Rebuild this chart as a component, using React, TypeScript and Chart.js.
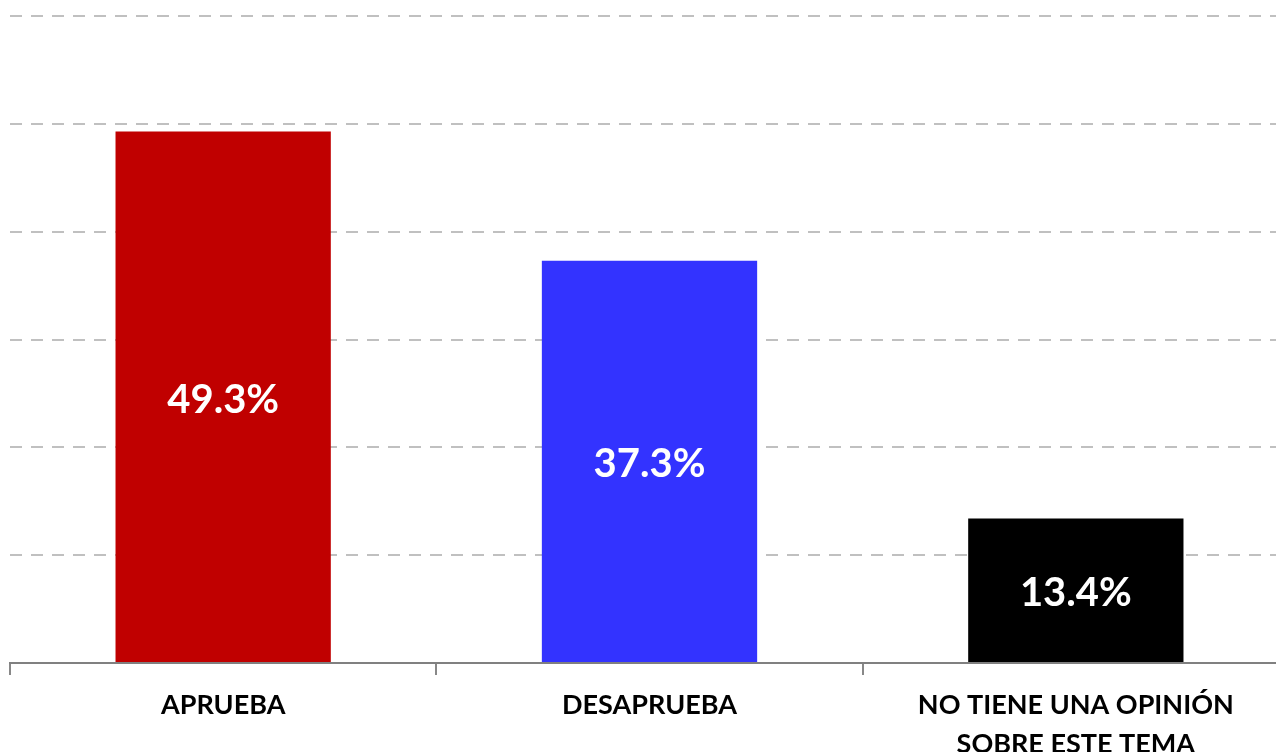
import React, { useEffect, useRef } from "react";
import { Chart, registerables } from "chart.js";

Chart.register(...registerables);

const categories: (string | string[])[] = [
  "APRUEBA",
  "DESAPRUEBA",
  ["NO TIENE UNA OPINIÓN", "SOBRE ESTE TEMA"],
];
const values: number[] = [49.3, 37.3, 13.4];
const barColors: string[] = ["#C00000", "#3333FF", "#000000"];
const yMax = 60;
const yStep = 10;

const valueLabels = {
  id: "valueLabels",
  afterDatasetsDraw(chart: any) {
    const ctx = chart.ctx;
    const meta = chart.getDatasetMeta(0);
    ctx.save();
    ctx.fillStyle = "#FFFFFF";
    ctx.font = "bold 40px Lato";
    ctx.textAlign = "center";
    ctx.textBaseline = "middle";
    meta.data.forEach((el: any, i: number) => {
      const { x, y, base } = el.getProps(["x", "y", "base"], true);
      ctx.fillText(values[i].toFixed(1) + "%", x, (y + base) / 2 + 3);
    });
    ctx.restore();
  },
};

export default function App() {
  const ref = useRef<HTMLCanvasElement | null>(null);
  useEffect(() => {
    if (!ref.current) return;
    const chart = new Chart(ref.current, {
      type: "bar",
      data: {
        labels: categories,
        datasets: [
          {
            data: values,
            backgroundColor: barColors,
            borderWidth: 0,
            barPercentage: 0.505,
            categoryPercentage: 1,
          },
        ],
      },
      options: {
        animation: false,
        responsive: false,
        maintainAspectRatio: false,
        layout: { padding: { left: 10, top: 16, right: 0, bottom: 0 } },
        plugins: { legend: { display: false }, tooltip: { enabled: false } },
        scales: {
          x: {
            grid: {
              drawOnChartArea: false,
              drawTicks: true,
              tickLength: 12,
              color: "#888888",
              lineWidth: 2,
            },
            border: { display: true, color: "#808080", width: 2 },
            ticks: {
              color: "#000000",
              padding: 11,
              maxRotation: 0,
              autoSkip: false,
              font: { family: "Lato", weight: "bold", size: 27, lineHeight: "39px" },
            },
          },
          y: {
            min: 0,
            max: yMax,
            ticks: { display: false, stepSize: yStep },
            border: { display: false, dash: [12, 9] },
            grid: {
              color: "#C0C0C0",
              lineWidth: 2,
              drawTicks: false,
            },
          },
        },
      },
      plugins: [valueLabels],
    });
    return () => chart.destroy();
  }, []);
  return (
    <div
      style={{
        position: "fixed",
        left: 0,
        top: 0,
        width: 1276,
        height: 752,
        overflow: "hidden",
        background: "#FFFFFF",
      }}
    >
      <canvas ref={ref} width={1289} height={775} style={{ display: "block" }} />
    </div>
  );
}
